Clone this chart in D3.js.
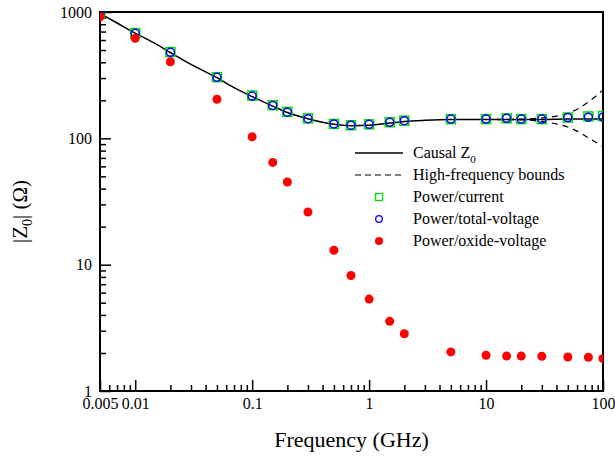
<!DOCTYPE html>
<html>
<head>
<meta charset="utf-8">
<script src="https://cdn.jsdelivr.net/npm/d3@7"></script>
<style>
  body { margin: 0; background: #fff; }
  svg, svg text { font-family: "Liberation Serif", "Times New Roman", Times, "DejaVu Serif", serif; }
</style>
</head>
<body>
<div id="chart"></div>
<script>
var width = 615,
    height = 462;
var serif = "'Liberation Serif', 'Times New Roman', Times, 'DejaVu Serif', serif";

// measured frequencies (GHz)
var freqs = [0.005, 0.01, 0.02, 0.05, 0.1, 0.15, 0.2, 0.3, 0.5, 0.7, 1, 1.5, 2, 5, 10, 15, 20, 30, 50, 75, 100];
var powerCurrent = [975, 680, 482, 305, 218, 183, 162, 144, 130, 127, 129, 134, 138, 142, 142, 144, 142, 142, 146, 149, 150];
var powerTotalV  = [975, 678, 480, 304, 216, 182, 161, 143, 130, 127, 129, 134, 138, 142, 142, 144, 142, 142, 146, 147, 147];
var powerOxideV  = [915, 619, 404, 204, 103, 64.5, 45.1, 26.1, 13.0, 8.2, 5.34, 3.56, 2.84, 2.04, 1.92, 1.89, 1.89, 1.88, 1.86, 1.85, 1.81];

// causal Z0 curve
var causalF = [0.005, 0.007, 0.01, 0.015, 0.02, 0.03, 0.05, 0.07, 0.1, 0.15, 0.2, 0.3, 0.4, 0.5, 0.7, 1, 1.5, 2, 3, 5, 10, 20, 30, 50, 100];
var causalZ = [975, 818, 680, 560, 478, 385, 302, 252, 214, 180, 160, 143, 134, 129, 126, 127, 132, 136, 139, 141, 141, 141, 141, 142, 142];

// high-frequency bounds
var boundF = [10, 20, 30, 40, 50, 60, 75, 100];
var boundUpper = [141, 142, 145, 150, 158, 170, 194, 241];
var boundLower = [141, 140, 136, 130, 123, 114, 101, 86];

var xTicks = [0.005, 0.01, 0.1, 1, 10, 100];
var yTicks = [1, 10, 100, 1000];

var margin = {left: 100, right: 12, top: 12, bottom: 71};
var pw = width - margin.left - margin.right,
    ph = height - margin.top - margin.bottom;

var svg = d3.select("#chart").append("svg")
    .attr("width", width)
    .attr("height", height)
    .attr("font-family", serif);

var g = svg.append("g")
    .attr("transform", "translate(" + margin.left + "," + margin.top + ")");

var x = d3.scaleLog().domain([0.005, 100]).range([0, pw]);
var y = d3.scaleLog().domain([1, 1000]).range([ph, 0]);

svg.append("defs").append("clipPath").attr("id", "clip")
  .append("rect").attr("width", pw).attr("height", ph);

// minor ticks
var xMinor = [];
[0.001, 0.01, 0.1, 1, 10].forEach(function(d) {
  for (var k = 2; k <= 9; k++) {
    var v = +(d * k).toPrecision(3);
    if (v > 0.005 && v < 100 && xTicks.indexOf(v) < 0) xMinor.push(v);
  }
});
var yMinor = [];
[1, 10, 100].forEach(function(d) {
  for (var k = 2; k <= 9; k++) yMinor.push(d * k);
});

g.append("g")
    .attr("transform", "translate(0," + ph + ")")
    .call(d3.axisBottom(x).tickValues(xMinor).tickSizeInner(-6).tickSizeOuter(0).tickFormat(""));
g.append("g")
    .call(d3.axisLeft(y).tickValues(yMinor).tickSizeInner(-6).tickSizeOuter(0).tickFormat(""));

g.append("g")
    .attr("transform", "translate(0," + ph + ")")
    .call(d3.axisBottom(x).tickValues(xTicks).tickSizeInner(-11).tickSizeOuter(0)
      .tickPadding(7).tickFormat(function(d) { return String(d); }));
g.append("g")
    .call(d3.axisLeft(y).tickValues(yTicks).tickSizeInner(-11).tickSizeOuter(0)
      .tickPadding(8).tickFormat(function(d) { return String(d); }));

g.selectAll(".domain").remove();
g.selectAll("g").attr("font-family", serif).attr("font-size", 16);
g.selectAll(".tick line").attr("stroke", "#000").attr("stroke-width", 1.5);
g.selectAll(".tick text").attr("fill", "#000");

// frame
g.append("rect")
    .attr("width", pw)
    .attr("height", ph)
    .attr("fill", "none")
    .attr("stroke", "#000")
    .attr("stroke-width", 2);

var plot = g.append("g").attr("clip-path", "url(#clip)");

var line = d3.line()
    .x(function(d) { return x(d[0]); })
    .y(function(d) { return y(d[1]); })
    .curve(d3.curveMonotoneX);

plot.append("path")
    .datum(d3.zip(boundF, boundUpper))
    .attr("d", line)
    .attr("fill", "none")
    .attr("stroke", "#000")
    .attr("stroke-width", 1.2)
    .attr("stroke-dasharray", "6,5");
plot.append("path")
    .datum(d3.zip(boundF, boundLower))
    .attr("d", line)
    .attr("fill", "none")
    .attr("stroke", "#000")
    .attr("stroke-width", 1.2)
    .attr("stroke-dasharray", "6,5");

plot.append("path")
    .datum(d3.zip(causalF, causalZ))
    .attr("d", line)
    .attr("fill", "none")
    .attr("stroke", "#000")
    .attr("stroke-width", 1.5);

plot.selectAll(".sq")
    .data(d3.zip(freqs, powerCurrent))
    .enter().append("rect")
    .attr("class", "sq")
    .attr("x", function(d) { return x(d[0]) - 4.5; })
    .attr("y", function(d) { return y(d[1]) - 4.5; })
    .attr("width", 9)
    .attr("height", 9)
    .attr("fill", "none")
    .attr("stroke", "#00e000")
    .attr("stroke-width", 1.5);

plot.selectAll(".circ")
    .data(d3.zip(freqs, powerTotalV))
    .enter().append("circle")
    .attr("class", "circ")
    .attr("cx", function(d) { return x(d[0]); })
    .attr("cy", function(d) { return y(d[1]); })
    .attr("r", 4)
    .attr("fill", "none")
    .attr("stroke", "#0000ff")
    .attr("stroke-width", 1.5);

plot.selectAll(".dot")
    .data(d3.zip(freqs, powerOxideV))
    .enter().append("circle")
    .attr("class", "dot")
    .attr("cx", function(d) { return x(d[0]); })
    .attr("cy", function(d) { return y(d[1]); })
    .attr("r", 4.5)
    .attr("fill", "#ff0000");

// legend
var lg = svg.append("g").attr("transform", "translate(355,153)");
var rowH = 22;
lg.append("line").attr("x1", 0).attr("x2", 48).attr("y1", 0).attr("y2", 0)
    .attr("stroke", "#000").attr("stroke-width", 1.5);
lg.append("line").attr("x1", 0).attr("x2", 48).attr("y1", rowH).attr("y2", rowH)
    .attr("stroke", "#000").attr("stroke-width", 1.2).attr("stroke-dasharray", "6,4");
lg.append("rect").attr("x", 24 - 3.5).attr("y", 2 * rowH - 3.5).attr("width", 7).attr("height", 7)
    .attr("fill", "none").attr("stroke", "#00e000").attr("stroke-width", 1.3);
lg.append("circle").attr("cx", 24).attr("cy", 3 * rowH).attr("r", 3.3)
    .attr("fill", "none").attr("stroke", "#0000ff").attr("stroke-width", 1.3);
lg.append("circle").attr("cx", 24).attr("cy", 4 * rowH).attr("r", 4)
    .attr("fill", "#ff0000");

var labels = ["Causal Z", "High-frequency bounds", "Power/current", "Power/total-voltage", "Power/oxide-voltage"];
labels.forEach(function(t, i) {
  var tx = lg.append("text")
      .attr("x", 58)
      .attr("y", i * rowH + 5)
      .attr("font-family", serif)
      .attr("font-size", 16)
      .attr("fill", "#000")
      .text(t);
  if (i === 0) {
    tx.append("tspan").attr("dy", 5).attr("font-size", 11).text("0");
  }
});

// axis titles
svg.append("text")
    .attr("x", margin.left + pw / 2)
    .attr("y", 447)
    .attr("text-anchor", "middle")
    .attr("font-family", serif)
    .attr("font-size", 22)
    .text("Frequency (GHz)");

var yt = svg.append("text")
    .attr("transform", "translate(27," + (margin.top + ph / 2 + 10) + ") rotate(-90)")
    .attr("text-anchor", "middle")
    .attr("font-family", serif)
    .attr("font-size", 21);
yt.append("tspan").text("|Z");
yt.append("tspan").attr("dy", 5).attr("font-size", 14).text("0");
yt.append("tspan").attr("dy", -5).text("| (\u03A9)");
</script>
</body>
</html>
